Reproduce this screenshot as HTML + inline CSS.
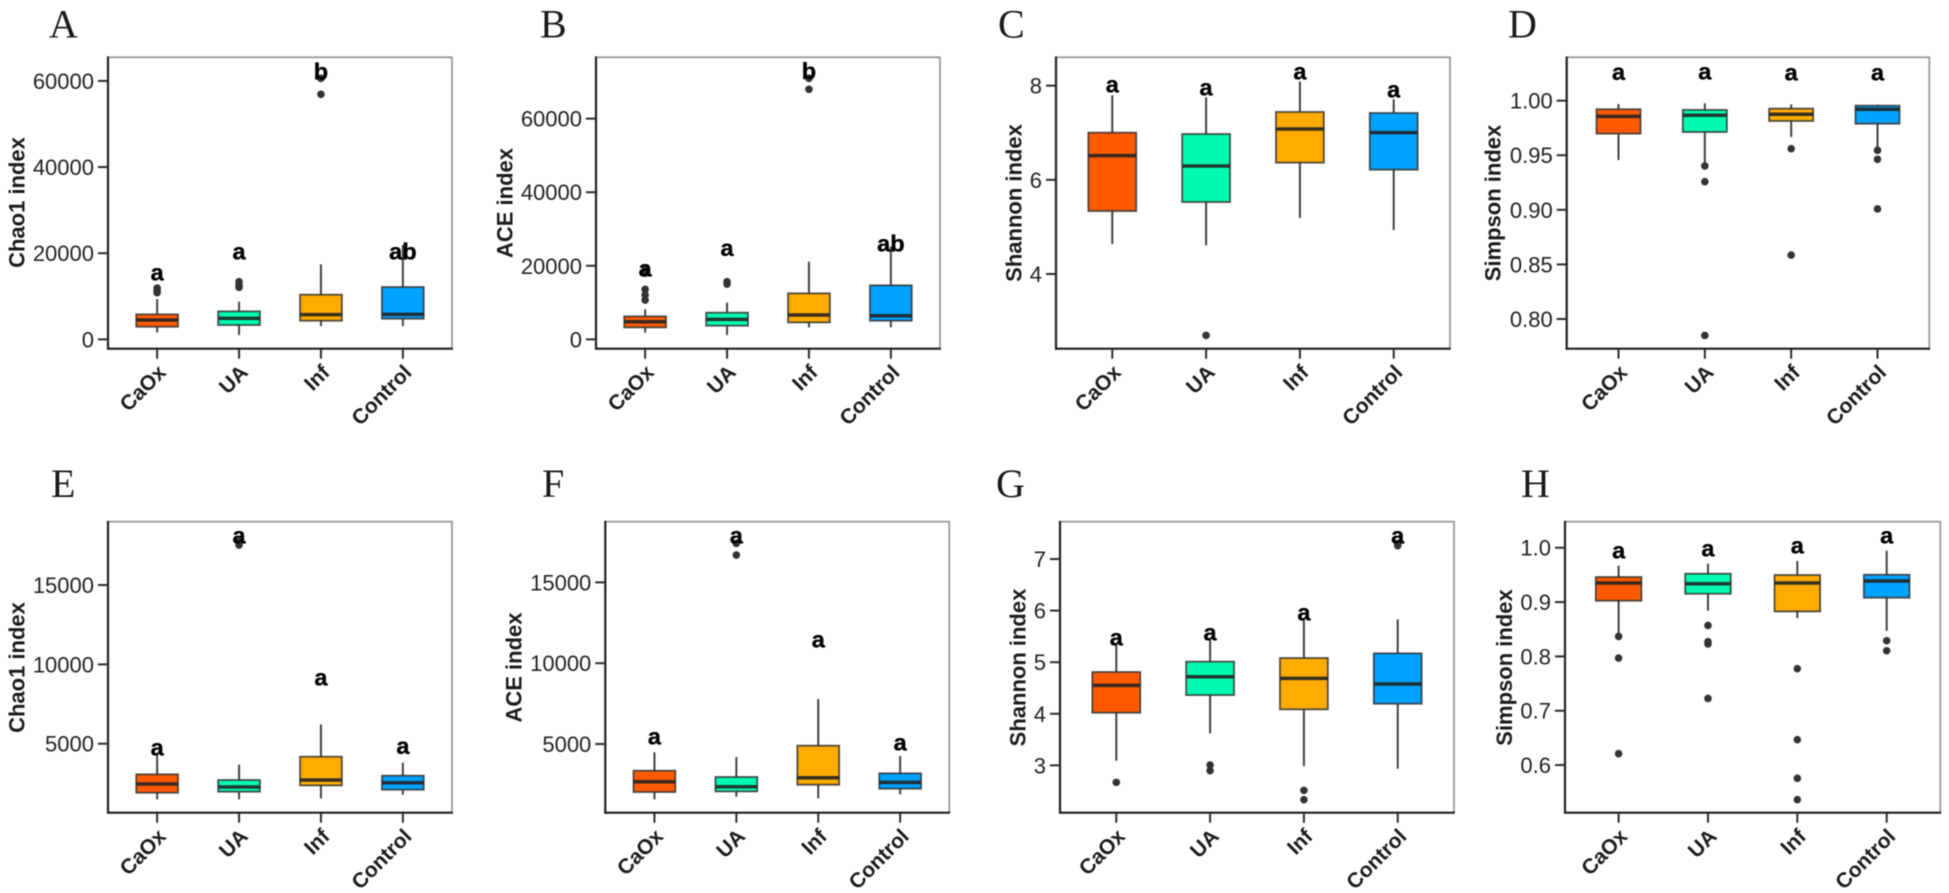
<!DOCTYPE html>
<html lang="en">
<head>
<meta charset="utf-8">
<title>Alpha diversity index boxplots</title>
<style>
  html, body { margin: 0; padding: 0; background: #fff; }
  svg { display: block; filter: blur(0.5px); }
  text { font-family: "Liberation Sans", Arial, sans-serif; }
  .panel-letter { font-family: "Liberation Serif", "Times New Roman", serif; font-size: 40px; fill: #1a1a1a; }
  .y-title { font-size: 22px; font-weight: bold; fill: #1c1c1c; text-anchor: middle; }
  .tick-label { font-size: 22px; fill: #222; text-anchor: end; }
  .cat-label { font-size: 21px; font-weight: bold; fill: #1c1c1c; text-anchor: end; }
  .sig-letter { font-size: 23.5px; font-weight: bold; fill: #000; stroke: #000; stroke-width: 0.35px; text-anchor: middle; }
</style>
</head>
<body>
<svg id="figure" xmlns="http://www.w3.org/2000/svg" width="1949" height="893" viewBox="0 0 1949 893">
  <rect x="0" y="0" width="1949" height="893" fill="#fff"/>

  <text class="panel-letter" x="49" y="37.5">A</text>
  <text class="panel-letter" x="540" y="37.5">B</text>
  <text class="panel-letter" x="998" y="37.5">C</text>
  <text class="panel-letter" x="1508" y="37.5">D</text>
  <text class="panel-letter" x="51" y="497">E</text>
  <text class="panel-letter" x="542" y="497">F</text>
  <text class="panel-letter" x="996" y="497">G</text>
  <text class="panel-letter" x="1521" y="497">H</text>

  <text class="y-title" transform="translate(24.5 202.5) rotate(-90)">Chao1 index</text>
  <text class="y-title" transform="translate(512.5 203) rotate(-90)">ACE index</text>
  <text class="y-title" transform="translate(1021.5 203) rotate(-90)">Shannon index</text>
  <text class="y-title" transform="translate(1500.5 203) rotate(-90)">Simpson index</text>
  <text class="y-title" transform="translate(24.5 667.5) rotate(-90)">Chao1 index</text>
  <text class="y-title" transform="translate(521.5 667.5) rotate(-90)">ACE index</text>
  <text class="y-title" transform="translate(1025.5 667.5) rotate(-90)">Shannon index</text>
  <text class="y-title" transform="translate(1512 667.5) rotate(-90)">Simpson index</text>
</svg>

<script>
const categories = ["CaOx", "UA", "Inf", "Control"];
const boxFills = ["#ff5a00", "#00fbb0", "#ffab00", "#00a2ff"];

/* Panel A: Chao1 */
const aDomain = [-2167, 65480];
const aTicks = ["0", "20000", "40000", "60000"];
const aLow = [1625, 1006, 3100, 3100];
const aQ1 = [2940, 3330, 4335, 4800];
const aMedian = [4490, 4880, 5730, 5800];
const aQ3 = [5805, 6500, 10370, 12150];
const aHigh = [9365, 8746, 17415, 21900];
const aOutliers = [[10840, 11400, 11920], [12075, 12600, 13390], [56890, 60600], []];
const aLetters = ["a", "a", "b", "ab"];
const aLetterAt = [15325, 20124, 62000, 20124];

/* Panel B: ACE */
const bDomain = [-2538, 76673];
const bTicks = ["0", "20000", "40000", "60000"];
const bLow = [1813, 1178, 3263, 3263];
const bQ1 = [3263, 3716, 4622, 5075];
const bMedian = [4803, 5438, 6616, 6435];
const bQ3 = [6253, 7250, 12507, 14682];
const bHigh = [8157, 9969, 21117, 25195];
const bOutliers = [[10694, 12054, 13595, 17945, 18850], [15045, 15679], [67972, 70963], []];
const bLetters = ["a", "a", "b", "ab"];
const bLetterAt = [19032, 24560, 72685, 25830];

/* Panel C: Shannon */
const cDomain = [2.414, 8.602];
const cTicks = ["4", "6", "8"];
const cLow = [4.637, 4.609, 5.189, 4.935];
const cQ1 = [5.338, 5.529, 6.365, 6.216];
const cMedian = [6.513, 6.294, 7.08, 7.002];
const cQ3 = [7.002, 6.973, 7.441, 7.419];
const cHigh = [7.795, 7.752, 8.085, 7.71];
const cOutliers = [[], [2.697], [], []];
const cLetters = ["a", "a", "a", "a"];
const cLetterAt = [8.0, 7.943, 8.283, 7.9];

/* Panel D: Simpson */
const dDomain = [0.7728, 1.0397];
const dTicks = ["0.80", "0.85", "0.90", "0.95", "1.00"];
const dLow = [0.9456, 0.9426, 0.9667, 0.9548];
const dQ1 = [0.9698, 0.9713, 0.9814, 0.9789];
const dMedian = [0.9856, 0.9866, 0.9875, 0.9921];
const dQ3 = [0.9921, 0.9915, 0.9927, 0.9954];
const dHigh = [0.9969, 0.9976, 0.9966, 0.9963];
const dOutliers = [[], [0.9402, 0.9258, 0.785], [0.956, 0.8586], [0.9545, 0.9463, 0.9008]];
const dLetters = ["a", "a", "a", "a"];
const dLetterAt = [1.0253, 1.0256, 1.025, 1.025];

/* Panel E: Chao1 */
const eDomain = [651, 18991];
const eTicks = ["5000", "10000", "15000"];
const eLow = [1492, 1492, 1555, 1786];
const eQ1 = [1912, 1975, 2374, 2101];
const eMedian = [2458, 2269, 2710, 2542];
const eQ3 = [3067, 2710, 4181, 2983];
const eHigh = [4286, 3676, 6218, 3803];
const eOutliers = [[], [17521, 17731], [], []];
const eLetters = ["a", "a", "a", "a"];
const eLetterAt = [4706, 18046, 9118, 4790];

/* Panel F: ACE */
const fDomain = [752, 18754];
const fTicks = ["5000", "10000", "15000"];
const fLow = [1577, 1742, 1639, 1886];
const fQ1 = [2031, 2072, 2484, 2237];
const fMedian = [2670, 2361, 2917, 2629];
const fQ3 = [3350, 2959, 4897, 3185];
const fHigh = [4485, 4196, 7784, 4258];
const fOutliers = [[], [16691, 17413], [], []];
const fLetters = ["a", "a", "a", "a"];
const fLetterAt = [5392, 17826, 11392, 5041];

/* Panel G: Shannon */
const gDomain = [2.082, 7.724];
const gTicks = ["3", "4", "5", "6", "7"];
const gLow = [3.09, 3.62, 2.987, 2.935];
const gQ1 = [4.021, 4.363, 4.086, 4.195];
const gMedian = [4.551, 4.719, 4.687, 4.577];
const gQ3 = [4.809, 5.01, 5.08, 5.171];
const gHigh = [5.365, 5.43, 5.817, 5.83];
const gOutliers = [[2.67], [3.006, 2.897], [2.515, 2.334], [7.258, 7.3]];
const gLetters = ["a", "a", "a", "a"];
const gLetterAt = [5.456, 5.559, 5.94, 7.433];

/* Panel H: Simpson */
const hDomain = [0.5123, 1.0479];
const hTicks = ["0.6", "0.7", "0.8", "0.9", "1.0"];
const hLow = [0.836, 0.884, 0.8706, 0.8472];
const hQ1 = [0.9025, 0.9153, 0.8828, 0.908];
const hMedian = [0.935, 0.9337, 0.935, 0.9387];
const hQ3 = [0.946, 0.9521, 0.9497, 0.9503];
const hHigh = [0.967, 0.9706, 0.9755, 0.9945];
const hOutliers = [[0.8368, 0.7969, 0.6209], [0.857, 0.827, 0.823, 0.7227], [0.7773, 0.6466, 0.5755, 0.5362], [0.8288, 0.8104]];
const hLetters = ["a", "a", "a", "a"];
const hLetterAt = [0.9926, 0.9969, 1.0018, 1.0209];

const panels = [
  { id: "a", left: 108, right: 452, top: 57.3, bottom: 348.7, domain: aDomain, ticks: aTicks, low: aLow, q1: aQ1, median: aMedian, q3: aQ3, high: aHigh, outliers: aOutliers, letters: aLetters, letterAt: aLetterAt },
  { id: "b", left: 596, right: 940, top: 57.3, bottom: 348.7, domain: bDomain, ticks: bTicks, low: bLow, q1: bQ1, median: bMedian, q3: bQ3, high: bHigh, outliers: bOutliers, letters: bLetters, letterAt: bLetterAt },
  { id: "c", left: 1056, right: 1450, top: 57.3, bottom: 348.7, domain: cDomain, ticks: cTicks, low: cLow, q1: cQ1, median: cMedian, q3: cQ3, high: cHigh, outliers: cOutliers, letters: cLetters, letterAt: cLetterAt },
  { id: "d", left: 1566.7, right: 1929.3, top: 57.3, bottom: 348.7, domain: dDomain, ticks: dTicks, low: dLow, q1: dQ1, median: dMedian, q3: dQ3, high: dHigh, outliers: dOutliers, letters: dLetters, letterAt: dLetterAt },
  { id: "e", left: 108, right: 452, top: 521.7, bottom: 812.7, domain: eDomain, ticks: eTicks, low: eLow, q1: eQ1, median: eMedian, q3: eQ3, high: eHigh, outliers: eOutliers, letters: eLetters, letterAt: eLetterAt },
  { id: "f", left: 605.3, right: 949.3, top: 521.7, bottom: 812.7, domain: fDomain, ticks: fTicks, low: fLow, q1: fQ1, median: fMedian, q3: fQ3, high: fHigh, outliers: fOutliers, letters: fLetters, letterAt: fLetterAt },
  { id: "g", left: 1060, right: 1454, top: 521.7, bottom: 812.7, domain: gDomain, ticks: gTicks, low: gLow, q1: gQ1, median: gMedian, q3: gQ3, high: gHigh, outliers: gOutliers, letters: gLetters, letterAt: gLetterAt },
  { id: "h", left: 1565, right: 1940.3, top: 521.7, bottom: 812.7, domain: hDomain, ticks: hTicks, low: hLow, q1: hQ1, median: hMedian, q3: hQ3, high: hHigh, outliers: hOutliers, letters: hLetters, letterAt: hLetterAt }
];

const svgNS = "http://www.w3.org/2000/svg";
const root = document.getElementById("figure");

function make(parent, tag, attrs, content) {
  const node = document.createElementNS(svgNS, tag);
  for (const key in attrs) node.setAttribute(key, attrs[key]);
  if (content !== undefined) node.textContent = content;
  parent.appendChild(node);
  return node;
}

function drawPanel(p) {
  const yScale = v => p.bottom - (v - p.domain[0]) / (p.domain[1] - p.domain[0]) * (p.bottom - p.top);
  const step = (p.right - p.left) / 4.2;
  const xScale = i => p.left + step * (0.6 + i);
  const halfBox = step * 0.255;

  const g = make(root, "g", {});
  
  

  const frame = make(g, "rect", { x: p.left, y: p.top, width: p.right - p.left, height: p.bottom - p.top, fill: "#fff", stroke: "#999", "stroke-width": 1.8 });
  
  

  const yAxis = make(g, "line", { x1: p.left, x2: p.left, y1: p.top - 0.8, y2: p.bottom + 1, stroke: "#222", "stroke-width": 2.2 });
  
  

  const xAxis = make(g, "line", { x1: p.left - 1, x2: p.right + 0.8, y1: p.bottom, y2: p.bottom, stroke: "#222", "stroke-width": 2.2 });
  
  

  p.ticks.forEach(label => {
    const y = yScale(Number(label));
    const tick = make(g, "line", { x1: p.left - 10, x2: p.left, y1: y, y2: y, stroke: "#2a2a2a", "stroke-width": 2 });
    
    
    const text = make(g, "text", { class: "tick-label", x: p.left - 14, y: y + 8 }, label);
    
    
  });

  categories.forEach((name, i) => {
    const x = xScale(i);
    const tick = make(g, "line", { x1: x, x2: x, y1: p.bottom, y2: p.bottom + 10, stroke: "#2a2a2a", "stroke-width": 2 });
    
    
    const text = make(g, "text", { class: "cat-label", transform: "translate(" + (x + 10) + " " + (p.bottom + 25) + ") rotate(-45)" }, name);
    
    

    const whisker = make(g, "line", { x1: x, x2: x, y1: yScale(p.low[i]), y2: yScale(p.high[i]), stroke: "#404040", "stroke-width": 2 });
    
    

    const yTop = yScale(p.q3[i]);
    const yBottom = yScale(p.q1[i]);
    const box = make(g, "rect", { x: x - halfBox, y: yTop, width: halfBox * 2, height: yBottom - yTop, fill: boxFills[i], stroke: "#333", "stroke-opacity": 0.85, "stroke-width": 1.8 });
    
    

    const median = make(g, "line", { x1: x - halfBox, x2: x + halfBox, y1: yScale(p.median[i]), y2: yScale(p.median[i]), stroke: "#222", "stroke-opacity": 0.9, "stroke-width": 3.5 });
    
    

    p.outliers[i].forEach(v => {
      const dot = make(g, "circle", { cx: x, cy: yScale(v), r: 3.8, fill: "#333" });
      
      
    });

    const letter = make(g, "text", { class: "sig-letter", x: x, y: yScale(p.letterAt[i]) + 7 }, p.letters[i]);
    
    
  });
}

panels.forEach(drawPanel);
</script>
</body>
</html>
